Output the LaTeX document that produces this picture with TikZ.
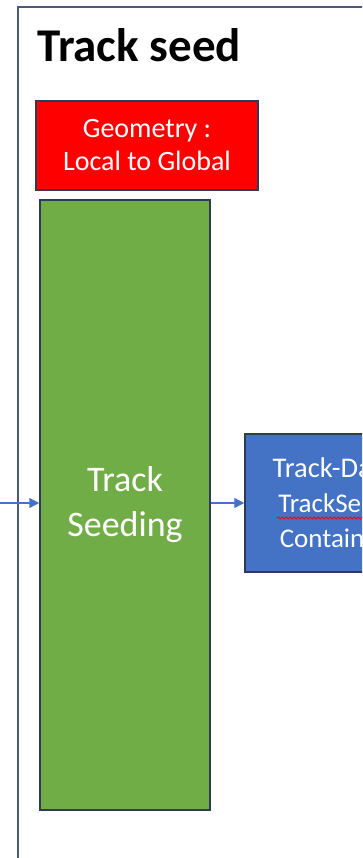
\documentclass[tikz,border=0pt]{standalone}
\usepackage{fontspec}
\setmainfont{Carlito}
\usetikzlibrary{arrows.meta,decorations.pathmorphing}
\definecolor{frameline}{HTML}{4A5A78}
\definecolor{boxedge}{HTML}{2F3B55}
\definecolor{geomred}{HTML}{FF0000}
\definecolor{seedgreen}{HTML}{70AD47}
\definecolor{datablue}{HTML}{4472C4}
\begin{document}
\begin{tikzpicture}[x=1pt,y=-1pt,
  block/.style={draw=boxedge,line width=1.5pt,text=white,align=center,inner sep=0pt},
  flow/.style={draw=datablue,line width=1.3pt,-{Triangle[length=10pt,width=10pt]}}]
\useasboundingbox (0,0) rectangle (362,858);
\clip (0,0) rectangle (362,858);
% outer frame of the stage
\draw[frameline,line width=1.5pt] (18,7) rectangle (430,900);
\node[anchor=base west,inner sep=0pt,font=\fontsize{47}{50}\selectfont\bfseries] (title) at (37,62) {Track seed};
% blocks
\node[block,fill=geomred,minimum width=222pt,minimum height=89pt,
      font=\fontsize{28}{33}\selectfont] (geom) at (147,145.5) {Geometry :\\Local to Global};
\node[block,fill=seedgreen,minimum width=170pt,minimum height=610pt,
      font=\fontsize{36}{45}\selectfont] (seed) at (125,505) {Track\\Seeding};
\node[block,fill=datablue,minimum width=177pt,minimum height=138pt,
      font=\fontsize{27}{35}\selectfont] (data) at (333.5,503)
      {{\fontsize{28.5}{35}\selectfont Track-Data}\\TrackSeed\\Container};
% spell-check squiggle
\draw[red,line width=0.8pt,decorate,decoration={snake,amplitude=1pt,segment length=4pt}]
  (277,518) -- (380,518);
% connectors
\coordinate (src) at (0,503);
\draw[flow] (src) -- (src -| seed.west);
\draw[flow] (seed.east |- data.west) -- (data.west);
\end{tikzpicture}
\end{document}
